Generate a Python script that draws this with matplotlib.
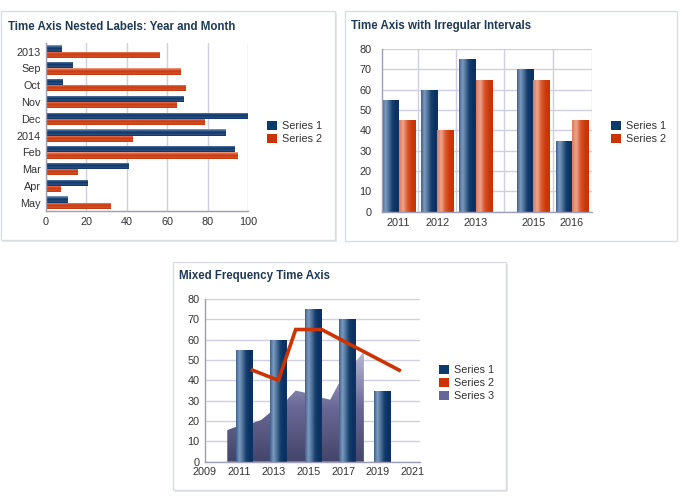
import numpy as np
import matplotlib
matplotlib.use("Agg")
import matplotlib.pyplot as plt
from matplotlib.patches import Rectangle, Patch
from matplotlib.colors import LinearSegmentedColormap

# ---------------- data ----------------
c1_labels = ['2013', 'Sep', 'Oct', 'Nov', 'Dec', '2014', 'Feb', 'Mar', 'Apr', 'May']
c1_s1 = [7.5, 13, 8, 68, 99.5, 88.5, 93, 40.5, 20.5, 10.5]
c1_s2 = [56, 66.5, 69, 64.5, 78, 42.5, 94.5, 15.5, 7, 32]
c1_xticks = [0, 20, 40, 60, 80, 100]

c2_years = [2011, 2012, 2013, 2015, 2016]
c2_s1 = [55, 60, 75, 70, 35]
c2_s2 = [45, 40, 65, 65, 45]
c2_yticks = [0, 10, 20, 30, 40, 50, 60, 70, 80]

c3_bar_dates = [2011.25, 2013.25, 2015.25, 2017.25, 2019.25]
c3_s1 = [55, 60, 75, 70, 35]
c3_line_dates = [2011.75, 2013.25, 2014.25, 2015.75, 2020.25]
c3_s2 = [45, 40, 65, 65, 45]
c3_area_dates = [2010.29, 2010.75, 2011.25, 2011.75, 2012.25, 2012.75, 2013.25,
                 2013.75, 2014.25, 2014.75, 2015.25, 2015.75, 2016.25, 2016.75,
                 2017.25, 2017.75, 2018.2]
c3_s3 = [15.5, 17, 18, 19, 20.5, 24, 27.5, 30.5, 35, 34, 32.5, 31.5, 30.5,
         38.5, 44, 49.5, 54]
c3_xticks = [2009, 2011, 2013, 2015, 2017, 2019, 2021]
c3_yticks = [0, 10, 20, 30, 40, 50, 60, 70, 80]

series_names = ['Series 1', 'Series 2', 'Series 3']

# ---------------- style ----------------
plt.rcParams['font.family'] = ['Liberation Sans', 'DejaVu Sans']
W, H = 685, 497
NAVY = '#0b3a6b'
RED = '#cc3300'
PURPLE = '#666699'
GRID = '#cfcfe0'
SPINE = '#9d9db5'
TXT = '#333333'
TITLE = '#1f3a55'
FS = 7.8

navy_h = LinearSegmentedColormap.from_list('nh', ['#8aa4c4', '#35598a', '#0c3365', '#2a5283', '#0c3365'])
red_h = LinearSegmentedColormap.from_list('rh', ['#f2a895', '#dc5a32', '#c8380c', '#d5522a', '#c2360b'])
navy_v = LinearSegmentedColormap.from_list('nv', ['#3c6190', '#7d9bbf', '#4d7099', '#17416f', '#0b3263', '#0b3263'])
red_v = LinearSegmentedColormap.from_list('rv', ['#e0785a', '#eea48c', '#da5830', '#cc3a0a', '#c63405'])
area_cm = LinearSegmentedColormap.from_list('ar', ['#44456a', '#6a6996', '#b8b8d2'])

fig = plt.figure(figsize=(W / 100, H / 100), dpi=100)
fig.patch.set_facecolor('white')


def fx(x):
    return x / W


def fy(y):
    return 1 - y / H


def panel(x0, y0, x1, y1):
    sh = Rectangle((fx(x0 + 1.5), fy(y1 + 1.5)), fx(x1 - x0), (y1 - y0) / H,
                   transform=fig.transFigure, facecolor='#e6e8ec', edgecolor='none', zorder=-2)
    fig.add_artist(sh)
    r = Rectangle((fx(x0), fy(y1)), fx(x1 - x0), (y1 - y0) / H,
                  transform=fig.transFigure, facecolor='white', edgecolor='#d9dde2',
                  linewidth=1.0, zorder=-1)
    fig.add_artist(r)


def make_ax(x0, y0, x1, y1):
    ax = fig.add_axes([fx(x0), fy(y1), fx(x1 - x0), (y1 - y0) / H])
    ax.set_facecolor('none')
    ax.patch.set_visible(False)
    for s in ['top', 'right']:
        ax.spines[s].set_visible(False)
    for s in ['left', 'bottom']:
        ax.spines[s].set_color(SPINE)
        ax.spines[s].set_linewidth(1.0)
        ax.spines[s].set_zorder(5)
    ax.tick_params(length=0, labelsize=FS, labelcolor=TXT)
    ax.set_axisbelow(True)
    return ax


def grad_bars(ax, bars, cmap, vertical_grad):
    n = 64
    for b in bars:
        x0, y0, w, h = b.get_x(), b.get_y(), b.get_width(), b.get_height()
        if vertical_grad:
            img = np.linspace(0, 1, n).reshape(-1, 1)
        else:
            img = np.linspace(0, 1, n).reshape(1, -1)
        im = ax.imshow(img, extent=[x0, x0 + w, y0, y0 + h], cmap=cmap, origin='lower',
                       aspect='auto', interpolation='bilinear', zorder=b.get_zorder() + 0.1)
        im.set_clip_path(b)
        b.set_facecolor('none')


def legend(x, y, names, colors):
    handles = [Patch(facecolor=c, edgecolor='none') for c in colors]
    fig.legend(handles, names, loc='upper left', bbox_to_anchor=(fx(x), fy(y)),
               bbox_transform=fig.transFigure, frameon=False, fontsize=FS,
               handlelength=0.95, handleheight=0.95, handletextpad=0.45,
               labelspacing=0.22, borderpad=0, borderaxespad=0, labelcolor=TXT)


# panels
panel(1, 11, 335, 240)
panel(345, 11, 677, 241)
panel(173, 262, 506, 490)

# titles
fig.text(fx(8), fy(26.5), 'Time Axis Nested Labels: Year and Month', fontsize=8.3,
         fontweight='bold', color=TITLE, va='center', ha='left')
fig.text(fx(351), fy(26.5), 'Time Axis with Irregular Intervals', fontsize=8.3,
         fontweight='bold', color=TITLE, va='center', ha='left')
fig.text(fx(179), fy(276.5), 'Mixed Frequency Time Axis', fontsize=8.3,
         fontweight='bold', color=TITLE, va='center', ha='left')

# ---------------- chart 1 ----------------
ax1 = make_ax(45.7, 43.3, 248.3, 211)
yy = np.arange(len(c1_labels))
bh = 0.37
b1 = ax1.barh(yy - bh / 2, c1_s1, height=bh, color=NAVY, zorder=2)
b2 = ax1.barh(yy + bh / 2, c1_s2, height=bh, color=RED, zorder=2)
grad_bars(ax1, b1, navy_h, True)
grad_bars(ax1, b2, red_h, True)
ax1.set_xlim(0, 100)
ax1.set_ylim(len(c1_labels) - 0.5, -0.5)
ax1.set_xticks(c1_xticks)
ax1.set_yticks(yy)
ax1.set_yticklabels(c1_labels)
ax1.xaxis.grid(True, color=GRID, linewidth=1.0)
ax1.tick_params(axis='x', pad=4.5)
ax1.tick_params(axis='y', pad=3.5)
legend(267, 121, series_names[:2], [NAVY, RED])

# ---------------- chart 2 ----------------
ax2 = make_ax(382, 49, 592.3, 211.7)
c2_idx = np.arange(len(c2_years))
c2_gap = np.concatenate([[0], np.cumsum(np.diff(c2_years) - 1)])
c2_x = c2_idx + 0.5 * c2_gap
bw = 0.42
b1 = ax2.bar(c2_x - bw / 2, c2_s1, width=bw, color=NAVY, zorder=2)
b2 = ax2.bar(c2_x + bw / 2, c2_s2, width=bw, color=RED, zorder=2)
grad_bars(ax2, b1, navy_v, False)
grad_bars(ax2, b2, red_v, False)
ax2.set_xlim(c2_x[0] - 0.43, c2_x[-1] + 0.53)
ax2.set_ylim(0, 80)
ax2.set_yticks(c2_yticks)
ax2.set_xticks(c2_x)
ax2.set_xticklabels([str(v) for v in c2_years])
mids = list((c2_x[:-1] + c2_x[1:]) / 2) + [c2_x[-1] + 0.53]
ax2.set_xticks(mids, minor=True)
ax2.tick_params(which='minor', length=0)
ax2.yaxis.grid(True, color=GRID, linewidth=1.0)
ax2.xaxis.grid(True, which='minor', color=GRID, linewidth=1.0)
ax2.tick_params(axis='x', pad=4.5)
ax2.tick_params(axis='y', pad=7.5)
legend(611, 121, series_names[:2], [NAVY, RED])

# ---------------- chart 3 ----------------
ax3 = make_ax(205, 299, 420, 461.7)
poly = ax3.fill_between(c3_area_dates, c3_s3, 0, facecolor='none', edgecolor='none', zorder=1.5)
img = np.linspace(0, 1, 128).reshape(-1, 1)
im = ax3.imshow(img, extent=[min(c3_area_dates), max(c3_area_dates), 0, max(c3_s3)],
                cmap=area_cm, origin='lower', aspect='auto', interpolation='bilinear', zorder=1.5)
im.set_clip_path(poly.get_paths()[0], transform=ax3.transData)
b3 = ax3.bar(c3_bar_dates, c3_s1, width=0.93, color=NAVY, zorder=2)
grad_bars(ax3, b3, navy_v, False)
ax3.plot(c3_line_dates, c3_s2, color=RED, linewidth=2.6, zorder=4, solid_joinstyle='miter')
ax3.set_xlim(2009, 2021.45)
ax3.set_ylim(0, 80)
ax3.set_xticks(c3_xticks)
ax3.set_xticklabels([str(v) for v in c3_xticks])
ax3.set_yticks(c3_yticks)
ax3.yaxis.grid(True, color=GRID, linewidth=1.0)
ax3.tick_params(axis='x', pad=4.0)
ax3.tick_params(axis='y', pad=4.0)
legend(439, 365, series_names, [NAVY, RED, PURPLE])

fig.savefig('out.png', dpi=100, facecolor='white')
